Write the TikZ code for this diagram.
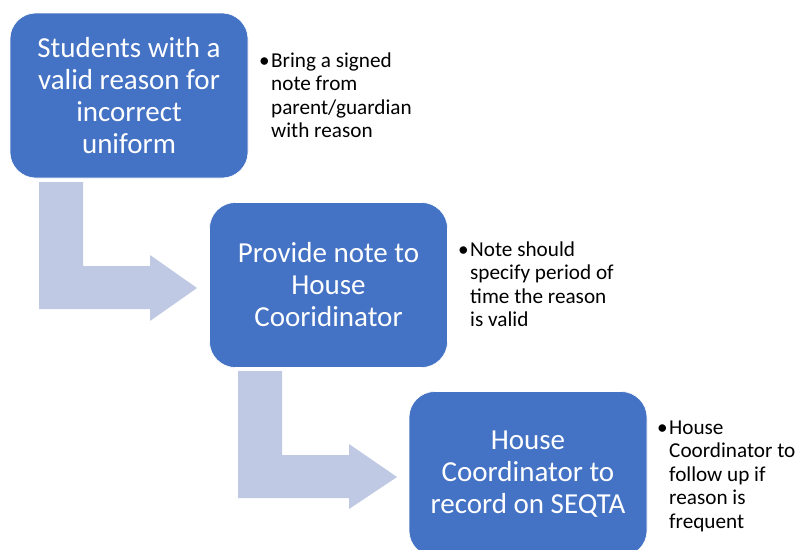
\documentclass[tikz,border=0pt]{standalone}
\usepackage{fontspec}
\setmainfont{Carlito}
\definecolor{boxblue}{RGB}{68,114,196}
\definecolor{arrowblue}{RGB}{191,201,228}
\tikzset{
  stepbox/.style={rectangle, rounded corners=26pt, fill=boxblue, draw=white, line width=0.6pt,
    minimum width=238pt, minimum height=165pt, inner sep=2pt, text=white, align=center,
    font=\fontsize{29}{32}\selectfont},
  bulletnote/.style={anchor=base west, inner sep=0pt, align=left, text=black,
    font=\fontsize{21.2}{23.5}\selectfont},
  bentarrow/.style={fill=arrowblue, draw=none}
}
\newcommand{\bulletlist}[1]{\begin{tabular}[t]{@{}l@{}l@{}}\makebox[12pt][l]{\textbullet}&#1\end{tabular}}
\begin{document}
\begin{tikzpicture}[x=1pt,y=1pt]
\clip (0,0) rectangle (797,-549);
\fill[white] (0,0) rectangle (797,-549);

% bent arrows
\draw[bentarrow] (39,-182) -- (83,-182) -- (83,-266) -- (150,-266) -- (150,-255) -- (197,-288)
  -- (150,-321) -- (150,-309) -- (39,-309) -- cycle;
\draw[bentarrow] (238,-371) -- (282,-371) -- (282,-455) -- (349,-455) -- (349,-444) -- (397,-477)
  -- (349,-509) -- (349,-498) -- (238,-498) -- cycle;

% boxes
\node[stepbox] (b1) at (129,-95.5) {Students with a\\valid reason for\\incorrect\\uniform};
\node[stepbox] (b2) at (328.5,-285) {Provide note to\\House\\Cooridinator};
\node[stepbox] (b3) at (528,-474) {House\\Coordinator to\\record on SEQTA};

% bullet notes
\node[bulletnote] (n1) at (259,-67) {\bulletlist{Bring a signed\\ & note from\\ & parent/guardian\\ & with reason}};
\node[bulletnote] (n2) at (458,-256) {\bulletlist{Note should\\ & specify period of\\ & time the reason\\ & is valid}};
\node[bulletnote] (n3) at (657,-434) {\bulletlist{House\\ & Coordinator to\\ & follow up if\\ & reason is\\ & frequent}};
\end{tikzpicture}
\end{document}
